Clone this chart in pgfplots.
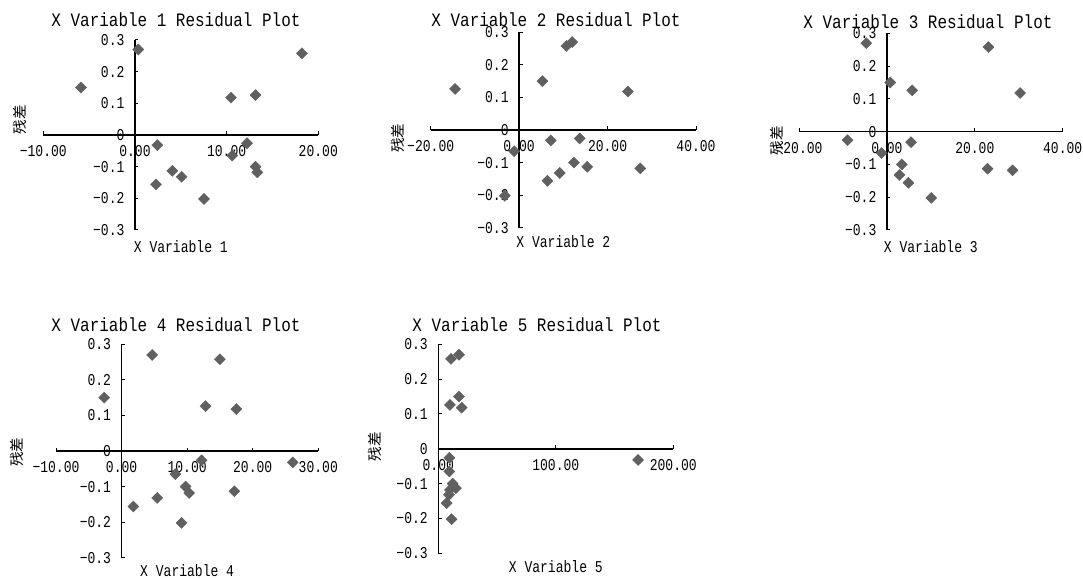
\documentclass[border=0pt]{standalone}
\usepackage{fontspec}
\setmainfont{Liberation Mono}
\newfontfamily\tickfont[FakeStretch=0.79]{Liberation Mono}
\newfontfamily\titlefont[FakeStretch=0.84]{Liberation Mono}
\newfontfamily\cjk{Noto Sans CJK SC}
\usepackage{pgfplots}
\pgfplotsset{compat=1.18}
\definecolor{markgray}{RGB}{96,96,96}

\pgfplotsset{
  resid/.style={
    scale only axis,
    axis lines=middle,
    axis line style={line width=1.5pt,-,black},
    tick align=inside,
    major tick length=3.5pt,
    tick style={line width=1pt,black},
    hide obscured x ticks=false,
    hide obscured y ticks=false,
    ymin=-0.3, ymax=0.3,
    ytick={-0.3,-0.2,-0.1,0,0.1,0.2,0.3},
    yticklabels={−0.3,−0.2,−0.1,0,0.1,0.2,0.3},
    /pgf/number format/assume math mode=true,
    tick label style={font=\tickfont\fontsize{16.5}{16.5}\selectfont},
    xticklabel style={anchor=north, yshift=-7pt},
    yticklabel style={anchor=east, xshift=-7pt},
    title style={font=\titlefont\fontsize{19}{19}\selectfont, anchor=center},
    xlabel style={font=\tickfont\fontsize{16.5}{16.5}\selectfont, anchor=center},
    ylabel style={font=\cjk\fontsize{14.5}{14.5}\selectfont, anchor=center, rotate=90},
    clip=false,
  },
  dots/.style={only marks, mark=square*, mark size=3.9pt,
    mark options={rotate=45, fill=markgray, draw=markgray}},
}

\pgfplotstableread{
x y
-5.89 0.150
0.36 0.270
2.44 -0.032
2.29 -0.156
4.07 -0.113
5.09 -0.132
7.53 -0.202
10.47 0.118
10.62 -0.065
12.22 -0.026
13.16 0.126
13.16 -0.100
13.35 -0.118
18.22 0.258
}\dataA
\pgfplotstableread{
x y
-14.5 0.126
5.27 0.150
10.7 0.258
12.0 0.270
24.6 0.118
7.16 -0.032
13.7 -0.026
-1.13 -0.065
-3.24 -0.202
12.4 -0.100
9.19 -0.132
6.4 -0.156
15.4 -0.113
27.4 -0.118
}\dataB
\pgfplotstableread{
x y
-4.7 0.270
23.1 0.258
0.76 0.150
5.75 0.126
30.3 0.118
-8.96 -0.026
5.5 -0.032
-1.2 -0.065
3.4 -0.100
2.85 -0.132
4.9 -0.156
10.1 -0.202
22.9 -0.113
28.6 -0.118
}\dataC
\pgfplotstableread{
x y
-2.64 0.150
4.67 0.270
15.0 0.258
12.8 0.126
17.5 0.118
12.2 -0.026
26.1 -0.032
8.2 -0.065
9.76 -0.100
10.3 -0.118
17.2 -0.113
5.44 -0.132
1.8 -0.156
9.15 -0.202
}\dataD
\pgfplotstableread{
x y
10.8 0.258
17.6 0.270
17.6 0.150
9.9 0.126
19.9 0.118
9.4 -0.026
9.4 -0.065
12.2 -0.100
15.0 -0.113
9.9 -0.118
9.1 -0.132
7.1 -0.156
11.3 -0.202
170 -0.032
}\dataE

\begin{document}
\begin{tikzpicture}[x=1pt,y=1pt]
\useasboundingbox (0,0) rectangle (1083,578);

% Plot 1
\begin{axis}[resid, at={(43.3pt,348pt)}, anchor=south west,
  width=275pt, height=190pt, xmin=-10, xmax=20,
  xtick={-10,0,10,20}, xticklabels={−10.00,0.00,10.00,20.00},
  title={X Variable 1 Residual Plot},
  title style={at={(axis description cs:0.4825,1)}, yshift=14pt},
  xlabel={X Variable 1},
  xlabel style={at={(axis description cs:0.5,0)}, yshift=-17pt},
  ylabel={残差},
  ylabel style={at={(axis description cs:-0.0847,0.579)}}]
\addplot[dots] table[x=x,y=y] {\dataA};
\end{axis}

% Plot 2
\begin{axis}[resid, at={(430.7pt,350.3pt)}, anchor=south west,
  width=265.3pt, height=195.4pt, xmin=-20, xmax=40,
  xtick={-20,0,20,40}, xticklabels={−20.00,0.00,20.00,40.00},
  title={X Variable 2 Residual Plot},
  title style={at={(axis description cs:0.4723,1)}, yshift=6.3pt},
  xlabel={X Variable 2},
  xlabel style={at={(axis description cs:0.5,0)}, yshift=-14.3pt},
  ylabel={残差},
  ylabel style={at={(axis description cs:-0.123,0.459)}}]
\addplot[dots] table[x=x,y=y] {\dataB};
\end{axis}

% Plot 3
\begin{axis}[resid, at={(799pt,348pt)}, anchor=south west,
  width=263.7pt, height=196.7pt, xmin=-20, xmax=40,
  xtick={-20,0,20,40}, xticklabels={−20.00,0.00,20.00,40.00},
  title={X Variable 3 Residual Plot},
  title style={at={(axis description cs:0.489,1)}, yshift=5.3pt},
  xlabel={X Variable 3},
  xlabel style={at={(axis description cs:0.5,0)}, yshift=-17pt},
  ylabel={残差},
  ylabel style={at={(axis description cs:-0.0834,0.4525)}}]
\addplot[dots] table[x=x,y=y] {\dataC};
\end{axis}

% Plot 4
\begin{axis}[resid, at={(56pt,20.3pt)}, anchor=south west,
  width=262.3pt, height=213.4pt, xmin=-10, xmax=30,
  xtick={-10,0,10,20,30}, xticklabels={−10.00,0.00,10.00,20.00,30.00},
  title={X Variable 4 Residual Plot},
  title style={at={(axis description cs:0.4575,1)}, yshift=13.3pt},
  xlabel={X Variable 4},
  xlabel style={at={(axis description cs:0.5,0)}, yshift=-12.5pt},
  ylabel={残差},
  ylabel style={at={(axis description cs:-0.1487,0.495)}}]
\addplot[dots] table[x=x,y=y] {\dataD};
\end{axis}

% Plot 5
\begin{axis}[resid, at={(438.3pt,24.7pt)}, anchor=south west,
  width=235pt, height=209pt, xmin=0, xmax=200,
  xtick={0,100,200}, xticklabels={0.00,100.00,200.00},
  title={X Variable 5 Residual Plot},
  title style={at={(axis description cs:0.42,1)}, yshift=13.3pt},
  xlabel={X Variable 5},
  xlabel style={at={(axis description cs:0.5,0)}, yshift=-13.7pt},
  ylabel={残差},
  ylabel style={at={(axis description cs:-0.269,0.509)}}]
\addplot[dots] table[x=x,y=y] {\dataE};
\end{axis}
\end{tikzpicture}
\end{document}
